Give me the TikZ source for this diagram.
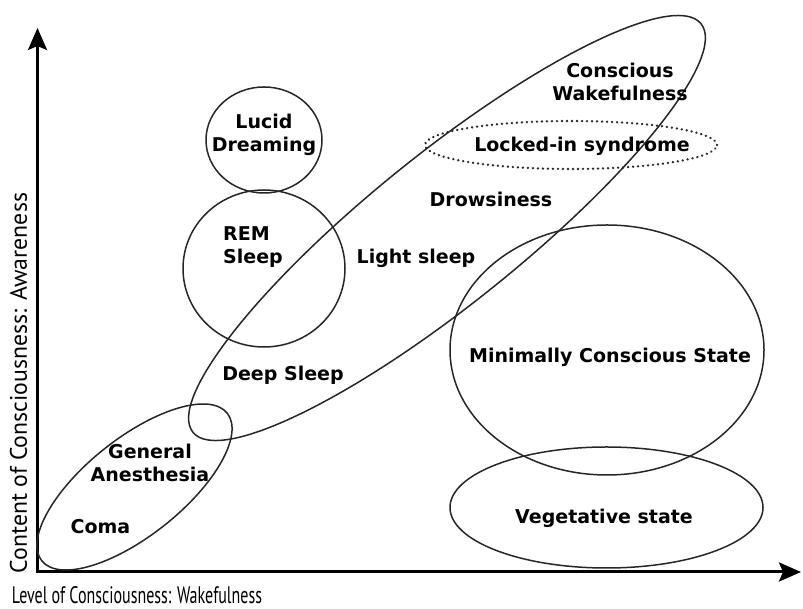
\documentclass[tikz,border=0pt]{standalone}
\usepackage{graphicx}
\usepackage{fontspec}
\setmainfont{DejaVu Sans}
\newfontfamily\axisfont{PT Sans}
\usetikzlibrary{arrows.meta}

\begin{document}
\begin{tikzpicture}[x=1pt, y=1pt]
    \tikzstyle{state}=[font=\fontsize{19}{23.5}\selectfont\bfseries, align=center, inner sep=0pt];
    \tikzstyle{region}=[draw=black!85, line width=1.5pt];
    \tikzstyle{axislabel}=[font=\axisfont, inner sep=0pt, text=black];

    \useasboundingbox (0,0) rectangle (803,609);

    % axes
    \coordinate (origin) at (37.5,37);
    \coordinate (ytip) at (37.5,581);
    \coordinate (xtip) at (801,37);
    \draw[line width=3pt, {Stealth[length=22pt, width=19pt, inset=4pt]}-{Stealth[length=22pt, width=19pt, inset=4pt]}]
        (ytip) -- (origin) -- (xtip);

    \node[axislabel] (xlabel) at (137,14)
        {\resizebox{250pt}{17pt}{Level of Consciousness: Wakefulness}};
    \node[axislabel, rotate=90] (ylabel) at (18.5,226)
        {\resizebox{380pt}{17pt}{Content of Consciousness: Awareness}};

    % regions
    \coordinate (lucidc) at (264,469);
    \coordinate (remc) at (264,340.5);
    \coordinate (wakec) at (447,381);
    \coordinate (lockedc) at (571,464);
    \coordinate (mcsc) at (607,259);
    \coordinate (vegc) at (606.5,101.5);
    \coordinate (comac) at (134.5,122);

    \draw[region] (lucidc) ellipse [x radius=58, y radius=53];
    \draw[region] (remc) ellipse [x radius=81, y radius=78.5];
    \draw[region, rotate around={38.8:(wakec)}] (wakec) ellipse [x radius=326, y radius=75];
    \draw[region, line width=2.6pt, line cap=round, dash pattern=on 0.01pt off 5pt]
        (lockedc) ellipse [x radius=146, y radius=24];
    \draw[region] (mcsc) ellipse [x radius=157, y radius=125];
    \draw[region] (vegc) ellipse [x radius=156.5, y radius=60.5];
    \draw[region, rotate around={38.5:(comac)}] (comac) ellipse [x radius=118.5, y radius=48.6];

    % labels
    \node[state] (wake) at (620,527) {Conscious\\Wakefulness};
    \node[state] (locked) at (582,463) {Locked-in syndrome};
    \node[state] (drowsy) at (491,410) {Drowsiness};
    \node[state] (lucid) at (264,474) {Lucid\\Dreaming};
    \node[state, anchor=west, align=left] (rem) at (223,362) {REM\\Sleep};
    \node[state] (light) at (416,351) {Light sleep};
    \node[state] (deep) at (283,234) {Deep Sleep};
    \node[state] (mcs) at (610,252) {Minimally Conscious State};
    \node[state] (anesth) at (150,146) {General\\Anesthesia};
    \node[state] (coma) at (100.5,82) {Coma};
    \node[state] (veg) at (604,91) {Vegetative state};
\end{tikzpicture}
\end{document}
